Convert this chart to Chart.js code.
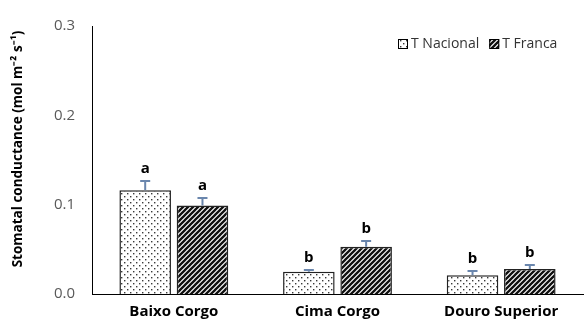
<!DOCTYPE html>
<html>
<head>
<meta charset="utf-8">
<script src="https://cdn.jsdelivr.net/npm/chart.js@4/dist/chart.umd.min.js"></script>
<style>
  html, body { margin: 0; padding: 0; background: #fff; }
  #wrap { width: 587px; height: 325px; }
</style>
</head>
<body>
<div id="wrap"><canvas id="myChart"></canvas></div>
<script>
const regions = ['Baixo Corgo', 'Cima Corgo', 'Douro Superior'];
const nacional = [0.116, 0.025, 0.021];
const franca = [0.099, 0.053, 0.028];
const nacionalErr = [0.011, 0.002, 0.005];
const francaErr = [0.009, 0.006, 0.004];
const nacionalLetters = ['a', 'b', 'b'];
const francaLetters = ['a', 'b', 'b'];
const yTicks = [0, 0.1, 0.2, 0.3];
const yTitle = 'Stomatal conductance (mol m⁻² s⁻¹)';

const makeDots = () => {
  const c = document.createElement('canvas');
  c.width = 6; c.height = 6;
  const g = c.getContext('2d');
  g.fillStyle = '#fff';
  g.fillRect(0, 0, 6, 6);
  g.fillStyle = '#3a3a3a';
  g.fillRect(1, 1, 1.4, 1.4);
  g.fillRect(4, 4, 1.4, 1.4);
  return g.createPattern(c, 'repeat');
}

const makeHatch = () => {
  const s = 5;
  const c = document.createElement('canvas');
  c.width = s; c.height = s;
  const g = c.getContext('2d');
  g.fillStyle = '#fff';
  g.fillRect(0, 0, s, s);
  g.strokeStyle = '#111';
  g.lineWidth = 2.3;
  g.beginPath();
  g.moveTo(-1, s + 1); g.lineTo(s + 1, -1);
  g.moveTo(-1, 1); g.lineTo(1, -1);
  g.moveTo(s - 1, s + 1); g.lineTo(s + 1, s - 1);
  g.stroke();
  return g.createPattern(c, 'repeat');
}

const dots = makeDots();
const hatch = makeHatch();

// error bars, letters, legend and the y title
const extras = {
  id: 'extras',
  afterDatasetsDraw(chart) {
    const { ctx, scales: { y } } = chart;
    const errs = [nacionalErr, francaErr];
    const letters = [nacionalLetters, francaLetters];
    ctx.save();
    chart.data.datasets.forEach((ds, i) => {
      chart.getDatasetMeta(i).data.forEach((bar, j) => {
        const top = Math.round(y.getPixelForValue(ds.data[j] + errs[i][j]));
        ctx.strokeStyle = '#6a86ad';
        ctx.lineWidth = 2;
        ctx.beginPath();
        ctx.moveTo(bar.x, bar.y);
        ctx.lineTo(bar.x, top);
        ctx.moveTo(bar.x - 5, top);
        ctx.lineTo(bar.x + 5, top);
        ctx.stroke();
        ctx.fillStyle = '#000';
        ctx.font = 'bold 15px "Open Sans", sans-serif';
        ctx.textAlign = 'center';
        ctx.textBaseline = 'alphabetic';
        ctx.fillText(letters[i][j], bar.x, top - 8);
      });
    });

    // legend
    ctx.font = '14px "Open Sans", sans-serif';
    ctx.textBaseline = 'middle';
    ctx.textAlign = 'left';
    let x = 398;
    const ly = 44;
    chart.data.datasets.forEach(ds => {
      ctx.fillStyle = ds.backgroundColor;
      ctx.fillRect(x, ly - 5, 10, 10);
      ctx.strokeStyle = '#000';
      ctx.lineWidth = 1;
      ctx.strokeRect(x + 0.5, ly - 4.5, 9, 9);
      ctx.fillStyle = '#333';
      ctx.fillText(ds.label, x + 13, ly);
      x += 13 + ctx.measureText(ds.label).width + 10;
    });

    // y axis title, sits a little above the plot centre like the original
    ctx.translate(18, 149);
    ctx.rotate(-Math.PI / 2);
    ctx.font = 'bold 13.5px "Open Sans", sans-serif';
    ctx.fillStyle = '#000';
    ctx.textAlign = 'center';
    ctx.textBaseline = 'middle';
    ctx.fillText(yTitle, 0, 0);
    ctx.restore();
  }
}

const ctx = document.getElementById('myChart');

new Chart(ctx, {
  type: 'bar',
  data: {
    labels: regions,
    datasets: [
      {
        label: 'T Nacional',
        data: nacional,
        backgroundColor: dots,
        borderColor: '#222',
        borderWidth: 1.5,
      },
      {
        label: 'T Franca',
        data: franca,
        backgroundColor: hatch,
        borderColor: '#222',
        borderWidth: 1.5,
      },
    ],
  },
  options: {
    responsive: true,
    maintainAspectRatio: false,
    animation: false,
    datasets: {
      bar: { categoryPercentage: 0.7, barPercentage: 0.9 }
    },
    layout: {
      padding: { top: 20, right: 4, left: 0, bottom: 0 }
    },
    plugins: {
      legend: { display: false },
      tooltip: { enabled: false },
    },
    scales: {
      x: {
        grid: { display: false, drawTicks: false },
        border: { color: '#000', width: 1 },
        ticks: {
          color: '#000',
          padding: 9,
          font: { family: '"Open Sans", sans-serif', size: 15, weight: 'bold' },
        },
        afterFit: scale => { scale.height = 31; },
      },
      y: {
        min: 0,
        max: 0.3,
        afterBuildTicks: scale => { scale.ticks = yTicks.map(v => ({ value: v })); },
        grid: { display: false, drawTicks: false },
        border: { color: '#000', width: 1 },
        ticks: {
          color: '#595959',
          padding: 17,
          font: { family: '"Open Sans", sans-serif', size: 15 },
          callback: v => v.toFixed(1),
        },
        afterFit: scale => { scale.width = 92; },
      },
    },
  },
  plugins: [extras],
});
</script>
</body>
</html>
